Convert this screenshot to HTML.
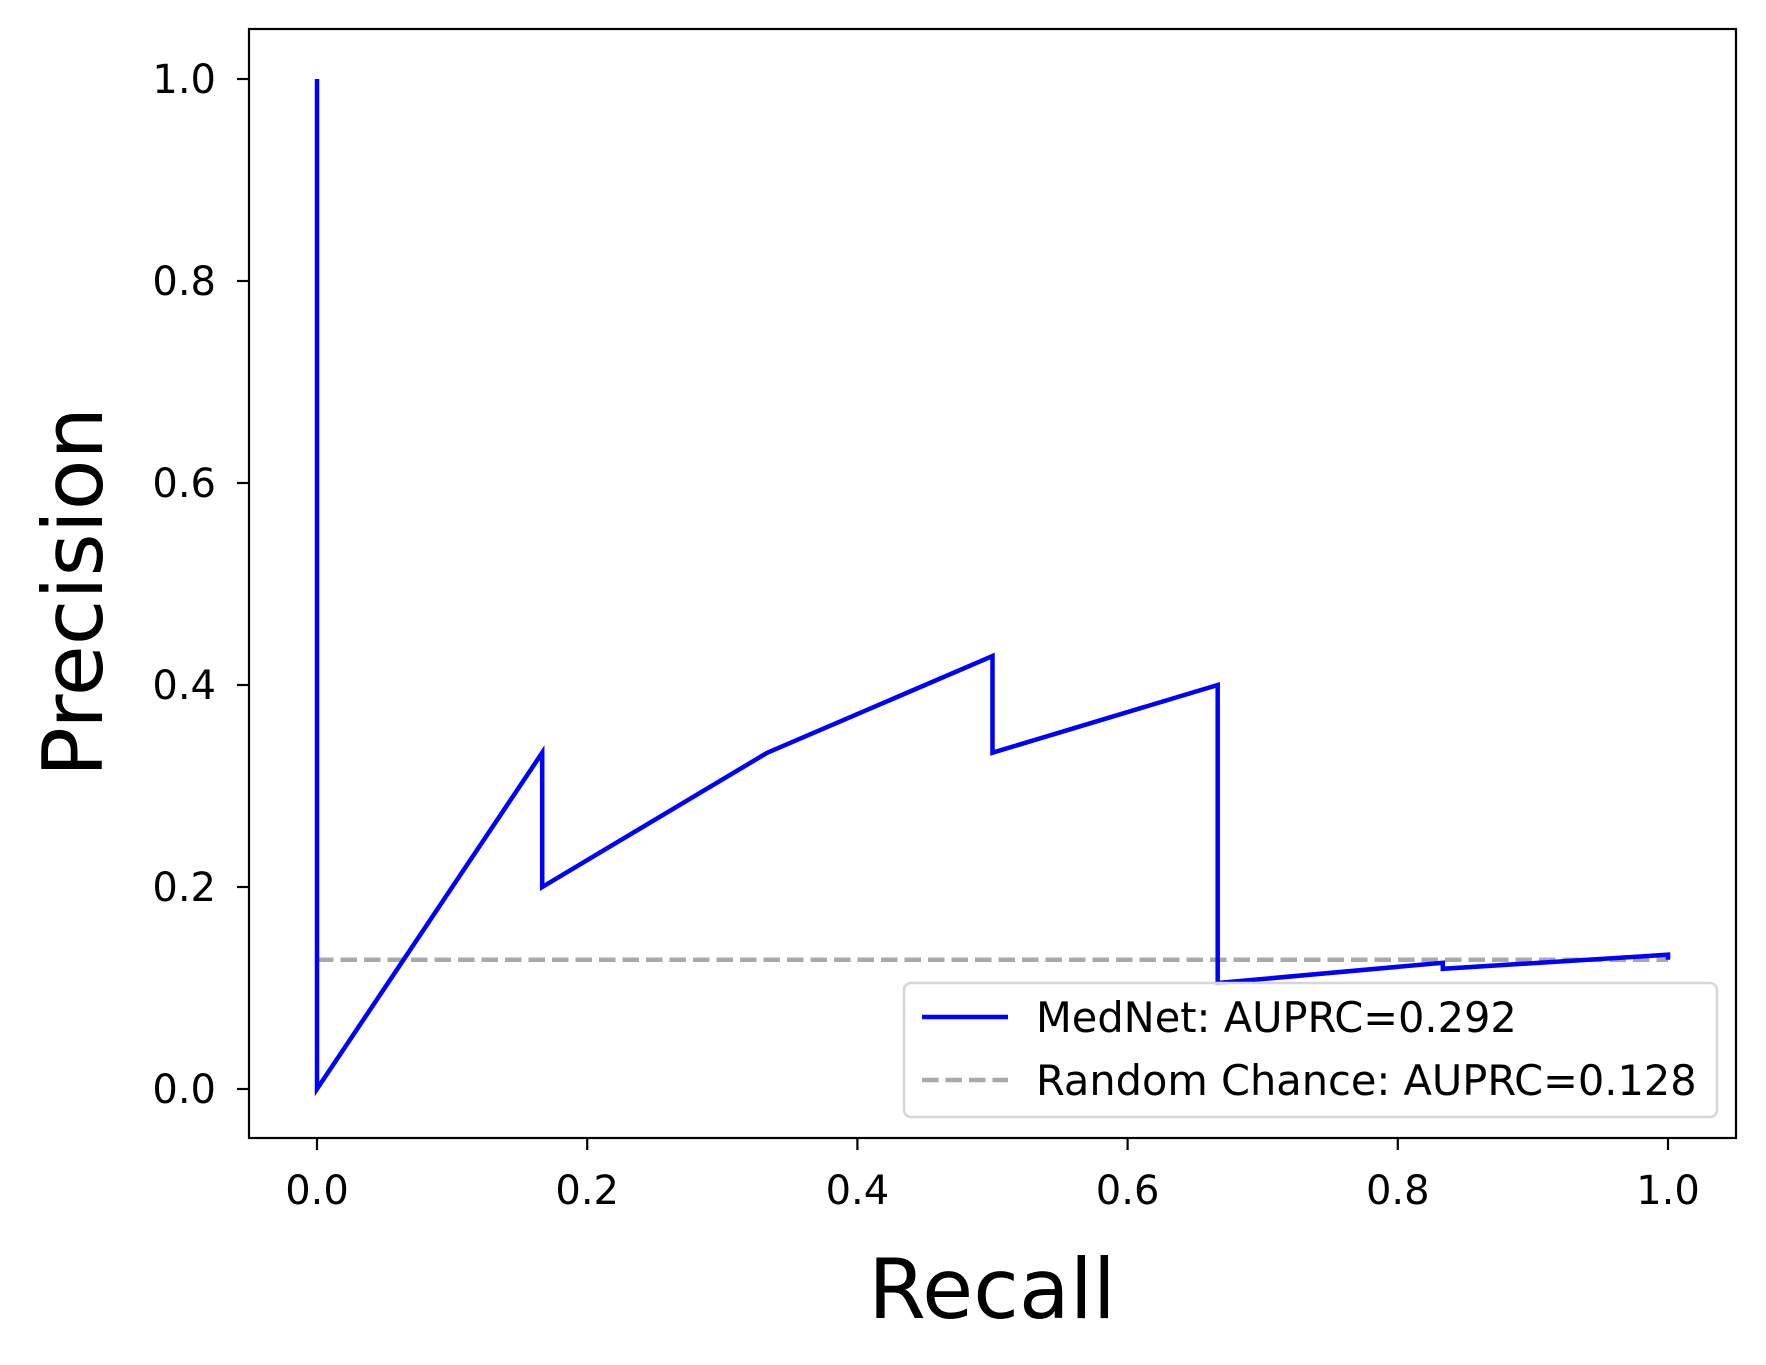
<!DOCTYPE html>
<html><head><meta charset="utf-8"><style>
html,body{margin:0;padding:0;background:#fff;}
svg text{font-family:"DejaVu Sans","Liberation Sans",sans-serif;fill:#000;}
</style></head><body>
<svg id="chart" width="1766" height="1360" viewBox="0 0 1766 1360" xmlns="http://www.w3.org/2000/svg">
<rect width="1766" height="1360" fill="#fff"/>
<g id="plot"></g>
</svg>
<script>
const recall = [0, 0, 1/6, 1/6, 2/6, 3/6, 3/6, 4/6, 4/6, 5/6, 5/6, 1, 1];
const precision = [1.0, 0.0, 0.333, 0.2, 0.333, 0.4286, 0.333, 0.4, 0.105, 0.125, 0.119, 0.133, 0.128];
const randomChance = 0.128;
const xTicks = [0, 0.2, 0.4, 0.6, 0.8, 1.0];
const yTicks = [0, 0.2, 0.4, 0.6, 0.8, 1.0];
const xTickLabels = ["0.0","0.2","0.4","0.6","0.8","1.0"];
const yTickLabels = ["0.0","0.2","0.4","0.6","0.8","1.0"];
const legendLabels = ["MedNet: AUPRC=0.292","Random Chance: AUPRC=0.128"];

const NS="http://www.w3.org/2000/svg";
const L=249,R=1736,T=29,B=1138;
const X0=317,X1=1668,Y0=1089,Y1=79;
function sx(v){return X0+(X1-X0)*v;}
function sy(v){return Y0+(Y1-Y0)*v;}
const g=document.getElementById('plot');
function mk(tag,attrs,parent){const e=document.createElementNS(NS,tag);for(const k in attrs)e.setAttribute(k,attrs[k]);(parent||g).appendChild(e);return e;}

const rc=mk('line',{x1:sx(0),x2:sx(1),y1:sy(randomChance),y2:sy(randomChance),stroke:'#a9a9a9','stroke-width':4.5,'stroke-dasharray':'16.5,7'});


const pts=recall.map((r,i)=>sx(r).toFixed(1)+','+sy(precision[i]).toFixed(1)).join(' ');
const pl=mk('polyline',{points:pts,fill:'none',stroke:'#0000ff','stroke-width':4.5,'stroke-linejoin':'miter'});


const fr=mk('rect',{x:L,y:T,width:R-L,height:B-T,fill:'none',stroke:'#000','stroke-width':2.2});


xTicks.forEach((v,i)=>{
 const t=mk('line',{x1:sx(v),x2:sx(v),y1:B,y2:B+12,stroke:'#000','stroke-width':2.2});
 
 
 const tx=mk('text',{x:sx(v),y:B+66,'text-anchor':'middle','font-size':40});
 
 
 tx.textContent=xTickLabels[i];
});
yTicks.forEach((v,i)=>{
 const t=mk('line',{x1:L-12,x2:L,y1:sy(v),y2:sy(v),stroke:'#000','stroke-width':2.2});
 
 
 const tx=mk('text',{x:L-33,y:sy(v)+14,'text-anchor':'end','font-size':40});
 
 
 tx.textContent=yTickLabels[i];
});
const xl=mk('text',{x:992,y:1318,'text-anchor':'middle','font-size':83});


xl.textContent='Recall';
const yl=mk('text',{x:0,y:0,'text-anchor':'middle','font-size':83,transform:'translate(102,592) rotate(-90)'});


yl.textContent='Precision';
const lg=mk('g',{});


const lb=mk('rect',{x:904,y:983,width:813,height:134,rx:7,fill:'#fff','fill-opacity':0.8,stroke:'#d6d6d6','stroke-width':2.5},lg);


const ys=[1017,1080];
const styles=[{stroke:'#0000ff'},{stroke:'#a9a9a9','stroke-dasharray':'16.5,7'}];
legendLabels.forEach((lab,i)=>{
 const h=mk('line',Object.assign({x1:922,x2:1008,y1:ys[i],y2:ys[i],'stroke-width':4.5},styles[i]),lg);
 
 
 const t=mk('text',{x:1036,y:ys[i]+15,'font-size':41.5},lg);
 
 
 t.textContent=lab;
});
</script>
</body></html>
